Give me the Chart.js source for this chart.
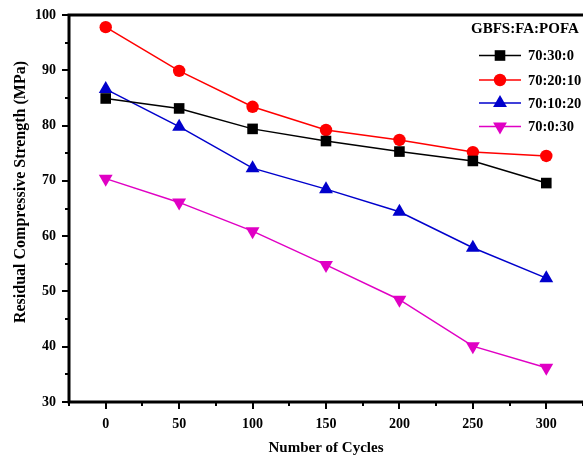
<!DOCTYPE html>
<html>
<head>
<meta charset="utf-8">
<script src="https://cdn.jsdelivr.net/npm/chart.js@4/dist/chart.umd.min.js"></script>
<style>
html,body{margin:0;padding:0;background:#fff;overflow:hidden;width:583px;height:457px;}
#wrap{width:591px;height:457px;position:relative;}
</style>
</head>
<body>
<div id="wrap"><canvas id="c" width="591" height="457"></canvas></div>
<script>
const cycles = [0, 50, 100, 150, 200, 250, 300];
const labels = ['70:30:0', '70:20:10', '70:10:20', '70:0:30'];
const s70_30_0  = [84.9, 83.1, 79.4, 77.2, 75.3, 73.6, 69.6];
const s70_20_10 = [97.8, 89.9, 83.4, 79.2, 77.4, 75.2, 74.5];
const s70_10_20 = [86.6, 79.8, 72.3, 68.5, 64.4, 57.9, 52.4];
const s70_0_30  = [70.4, 66.1, 60.9, 54.8, 48.5, 40.1, 36.2];
const yTicks = [30, 40, 50, 60, 70, 80, 90, 100];
const xTickLabels = ['0', '50', '100', '150', '200', '250', '300'];
const legendTitle = 'GBFS:FA:POFA';
const xTitle = 'Number of Cycles';
const yTitle = 'Residual Compressive Strength (MPa)';

const FONT = "'Liberation Serif', 'Times New Roman', serif";
const pts = arr => cycles.map((c, i) => ({x: c, y: arr[i]}));

const styles = [
  {color:'#000000', pointStyle:'rect', radius:7.5, rotation:0},
  {color:'#ff0000', pointStyle:'circle', radius:6.2, rotation:0},
  {color:'#0000cc', pointStyle:'triangle', radius:8, rotation:0},
  {color:'#e000c4', pointStyle:'triangle', radius:8, rotation:180}
];
const series = [s70_30_0, s70_20_10, s70_10_20, s70_0_30];

const datasets = series.map((s, i) => ({
  label: labels[i],
  data: pts(s),
  borderColor: styles[i].color,
  backgroundColor: styles[i].color,
  borderWidth: 1.5,
  pointStyle: styles[i].pointStyle,
  pointRadius: styles[i].radius,
  pointRotation: styles[i].rotation,
  pointBorderWidth: 0,
  pointHoverRadius: styles[i].radius,
  tension: 0
}));

const axesPlugin = {
  id: 'axesPlugin',
  afterDraw(chart) {
    const ctx = chart.ctx;
    const a = chart.chartArea;
    const xs = chart.scales.x, ys = chart.scales.y;
    ctx.save();
    ctx.strokeStyle = '#000';
    ctx.lineCap = 'butt';
    // ticks
    ctx.lineWidth = 2;
    for (let v = -25; v <= 325; v += 25) {
      const px = Math.round(xs.getPixelForValue(v));
      const len = (v % 50 === 0) ? 7 : 4;
      ctx.beginPath(); ctx.moveTo(px, a.bottom); ctx.lineTo(px, a.bottom + len); ctx.stroke();
    }
    for (let v = 30; v <= 100; v += 5) {
      const py = Math.round(ys.getPixelForValue(v));
      const len = (v % 10 === 0) ? 7 : 4;
      ctx.beginPath(); ctx.moveTo(a.left, py); ctx.lineTo(a.left - len, py); ctx.stroke();
    }
    // frame
    ctx.lineWidth = 3;
    ctx.beginPath();
    ctx.moveTo(a.right + 2, a.top); ctx.lineTo(a.left, a.top); ctx.lineTo(a.left, a.bottom); ctx.lineTo(a.right + 2, a.bottom);
    ctx.stroke();
    // y title
    ctx.fillStyle = '#000';
    ctx.font = 'bold 16px ' + FONT;
    ctx.textBaseline = 'middle';
    ctx.textAlign = 'center';
    ctx.save();
    ctx.translate(21, 192);
    ctx.rotate(-Math.PI / 2);
    ctx.fillText(yTitle, 0, 0);
    ctx.restore();
    // legend
    ctx.font = 'bold 15px ' + FONT;
    ctx.textAlign = 'left';
    ctx.fillText(legendTitle, 471, 29);
    ctx.font = 'bold 14.5px ' + FONT;
    const ly = [55.5, 80, 103, 126.5];
    chart.data.datasets.forEach((d, i) => {
      const y = ly[i];
      ctx.strokeStyle = d.borderColor;
      ctx.lineWidth = 1.5;
      ctx.beginPath(); ctx.moveTo(479, y); ctx.lineTo(521, y); ctx.stroke();
      ctx.fillStyle = d.backgroundColor;
      Chart.helpers.drawPoint(ctx, {pointStyle: d.pointStyle, radius: d.pointRadius, rotation: d.pointRotation, borderWidth: 0}, 500, y);
      ctx.fillStyle = '#000';
      ctx.fillText(d.label, 528, y + 1);
    });
    ctx.restore();
  }
};

new Chart(document.getElementById('c'), {
  type: 'line',
  data: {datasets},
  options: {
    responsive: false,
    animation: false,
    events: [],
    layout: {padding: {top: 15, right: 0, left: 0, bottom: 0}},
    plugins: {legend: {display: false}, tooltip: {enabled: false}},
    scales: {
      x: {
        type: 'linear', min: -25, max: 325,
        afterFit: s => { s.height = 55; s.paddingLeft = 0; s.paddingRight = 0; },
        grid: {display: false, drawTicks: false},
        border: {display: false},
        ticks: {
          autoSkip: false,
          padding: 14,
          maxRotation: 0,
          color: '#000',
          font: {family: FONT, size: 14, weight: 'bold'},
          callback: v => { const i = cycles.indexOf(v); return i >= 0 ? xTickLabels[i] : ''; }
        },
        afterBuildTicks: s => { s.ticks = cycles.map(v => ({value: v})); },
        title: {display: true, text: xTitle, color: '#000', font: {family: FONT, size: 15, weight: 'bold'}, padding: {top: 2, bottom: 0}}
      },
      y: {
        min: 30, max: 100,
        afterFit: s => { s.width = 69; s.paddingTop = 0; s.paddingBottom = 0; },
        grid: {display: false, drawTicks: false},
        border: {display: false},
        afterBuildTicks: s => { s.ticks = yTicks.map(v => ({value: v})); },
        ticks: {
          padding: 13,
          color: '#000',
          font: {family: FONT, size: 14, weight: 'bold'}
        },
        title: {display: false}
      }
    }
  },
  plugins: [axesPlugin]
});
</script>
</body>
</html>
